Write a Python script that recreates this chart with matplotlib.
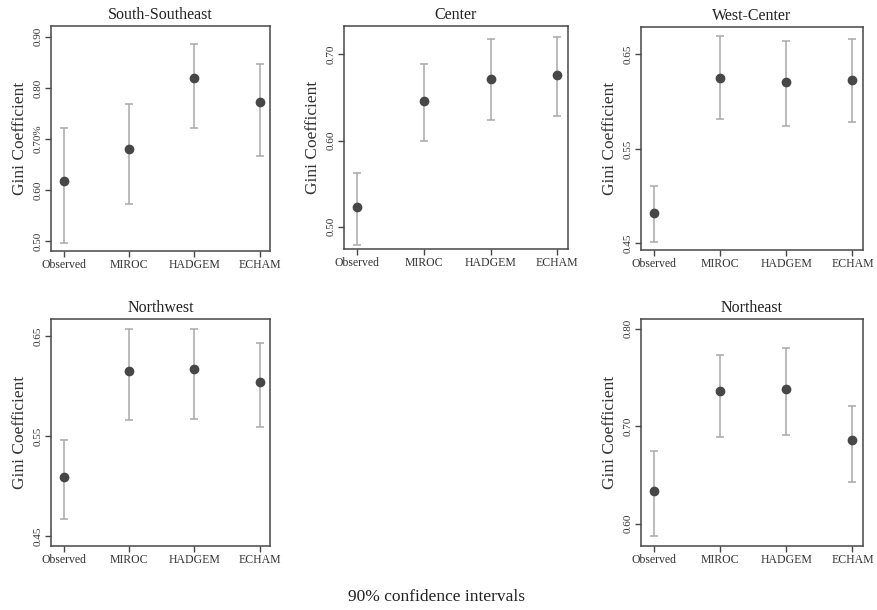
import numpy as np
import matplotlib
matplotlib.use("Agg")
import matplotlib.pyplot as plt

plt.rcParams['font.family'] = ['Liberation Serif', 'DejaVu Serif']

models = ["Observed", "MIROC", "HADGEM", "ECHAM"]

# point estimate, lower and upper 90% bounds per region
sse_est = [0.617, 0.680, 0.820, 0.772]
sse_lo = [0.496, 0.573, 0.722, 0.666]
sse_hi = [0.721, 0.768, 0.886, 0.846]

cen_est = [0.523, 0.646, 0.672, 0.676]
cen_lo = [0.479, 0.599, 0.624, 0.629]
cen_hi = [0.562, 0.689, 0.718, 0.720]

wc_est = [0.482, 0.625, 0.621, 0.623]
wc_lo = [0.451, 0.582, 0.574, 0.578]
wc_hi = [0.511, 0.669, 0.664, 0.666]

nw_est = [0.509, 0.615, 0.617, 0.604]
nw_lo = [0.467, 0.566, 0.567, 0.559]
nw_hi = [0.546, 0.657, 0.657, 0.643]

ne_est = [0.633, 0.736, 0.738, 0.686]
ne_lo = [0.587, 0.689, 0.691, 0.643]
ne_hi = [0.674, 0.773, 0.780, 0.721]

panels = [
    ("South-Southeast", sse_est, sse_lo, sse_hi, [0.50, 0.60, 0.70, 0.80, 0.90],
     ["0.50", "0.60", "0.70%", "0.80", "0.90"], (0.481, 0.921)),
    ("Center", cen_est, cen_lo, cen_hi, [0.50, 0.60, 0.70],
     ["0.50", "0.60", "0.70"], (0.474, 0.733)),
    ("West-Center", wc_est, wc_lo, wc_hi, [0.45, 0.55, 0.65],
     ["0.45", "0.55", "0.65"], (0.443, 0.679)),
    ("Northwest", nw_est, nw_lo, nw_hi, [0.45, 0.55, 0.65],
     ["0.45", "0.55", "0.65"], (0.440, 0.667)),
    ("Northeast", ne_est, ne_lo, ne_hi, [0.60, 0.70, 0.80],
     ["0.60", "0.70", "0.80"], (0.577, 0.810)),
]

W, H = 877, 610
# axes boxes in pixels: left, right, top, bottom
boxes = [
    (51, 270, 26, 251),
    (344, 568, 26, 249),
    (641, 863, 27, 250),
    (51, 270, 319, 546),
    (641, 863, 319, 546),
]

fig = plt.figure(figsize=(W / 100, H / 100), dpi=100)
dark = "#474747"
light = "#a8a8a8"

for (title, est, lo, hi, yt, ytl, ylim), (l, r, t, b) in zip(panels, boxes):
    ax = fig.add_axes([l / W, 1 - b / H, (r - l) / W, (b - t) / H])
    x = np.arange(1, len(models) + 1)
    est = np.array(est)
    yerr = [est - np.array(lo), np.array(hi) - est]
    ax.errorbar(x, est, yerr=yerr, fmt="none", ecolor=light, elinewidth=1.1,
                capsize=3.2, capthick=1.1)
    ax.plot(x, est, "o", color=dark, markersize=6)
    ax.set_xlim(0.8, 4.16)
    ax.set_ylim(*ylim)
    ax.set_xticks(x)
    ax.set_xticklabels(models, fontsize=8.5)
    ax.set_yticks(yt)
    ax.set_yticklabels(ytl, fontsize=8, rotation=90, va="center")
    ax.set_ylabel("Gini Coefficient", fontsize=12.5, color="#333333")
    ax.set_title(title, fontsize=11.5, pad=5, color="#222222")
    ax.tick_params(direction="out", length=4, width=1, color=dark, pad=2,
                   labelcolor="#333333")
    for s in ax.spines.values():
        s.set_color(dark)
        s.set_linewidth(1.1)

fig.text(437 / W, 1 - 597 / H, "90% confidence intervals", ha="center",
         va="center", fontsize=12.5, color="#222222")

fig.savefig("out.png", dpi=100)
